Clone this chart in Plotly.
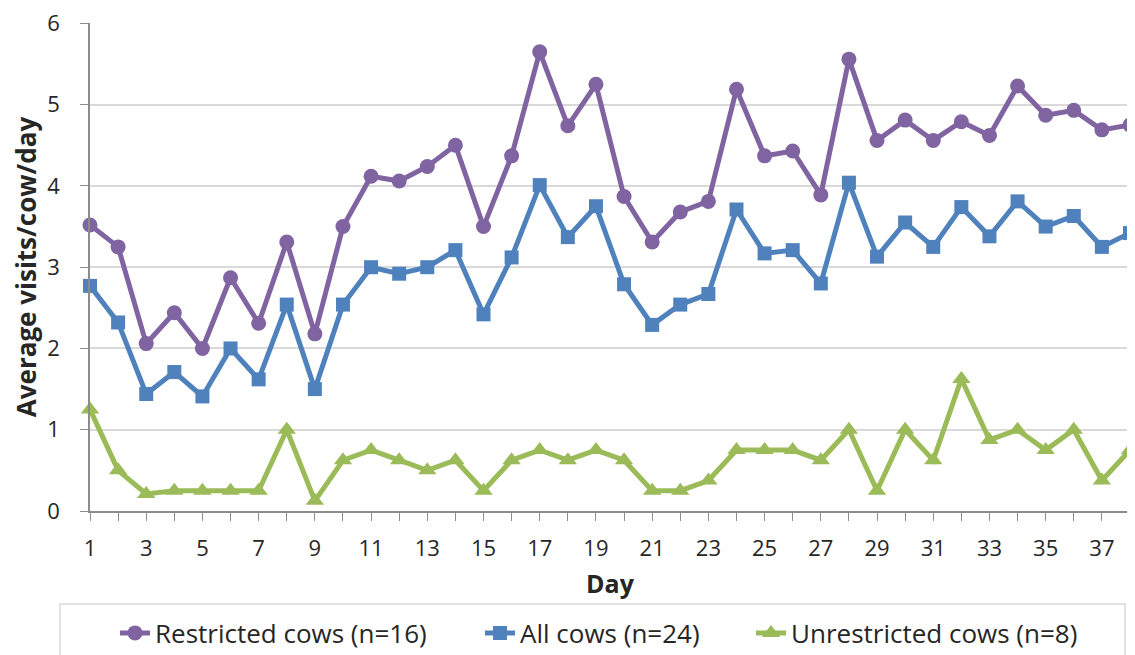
import plotly.graph_objects as go

days = list(range(1, 39))

restricted = [3.52, 3.25, 2.06, 2.44, 2.00, 2.87, 2.31, 3.31, 2.18, 3.50,
              4.12, 4.06, 4.24, 4.50, 3.50, 4.37, 5.65, 4.74, 5.25, 3.87,
              3.31, 3.68, 3.81, 5.19, 4.37, 4.43, 3.89, 5.56, 4.56, 4.81,
              4.56, 4.79, 4.62, 5.23, 4.87, 4.93, 4.69, 4.75]

all_cows = [2.77, 2.32, 1.44, 1.71, 1.41, 2.00, 1.62, 2.54, 1.50, 2.54,
            3.00, 2.92, 3.00, 3.21, 2.42, 3.12, 4.01, 3.37, 3.75, 2.79,
            2.29, 2.54, 2.67, 3.71, 3.17, 3.21, 2.80, 4.04, 3.13, 3.55,
            3.25, 3.74, 3.38, 3.81, 3.50, 3.63, 3.25, 3.42]

unrestricted = [1.25, 0.50, 0.21, 0.25, 0.25, 0.25, 0.25, 1.00, 0.125, 0.625,
                0.75, 0.625, 0.50, 0.625, 0.25, 0.625, 0.75, 0.625, 0.75, 0.625,
                0.25, 0.25, 0.375, 0.75, 0.75, 0.75, 0.625, 1.00, 0.25, 1.00,
                0.625, 1.625, 0.875, 1.00, 0.75, 1.00, 0.375, 0.75]

series_names = ["Restricted cows (n=16)", "All cows (n=24)", "Unrestricted cows (n=8)"]
x_tick_labels = [str(d) for d in range(1, 38, 2)]
y_ticks = [0, 1, 2, 3, 4, 5, 6]

FONT = "Open Sans"
TXT = "#262626"

fig = go.Figure()
styles = [
    (restricted, "#8064A2", "circle", 15, "legend"),
    (all_cows, "#4F81BD", "square", 14, "legend2"),
    (unrestricted, "#9BBB59", "triangle-up", 16, "legend3"),
]
for (vals, col, sym, sz, lg), name in zip(styles, series_names):
    fig.add_trace(go.Scatter(
        x=days, y=vals, name=name, mode="lines+markers",
        line=dict(color=col, width=5),
        marker=dict(color=col, symbol=sym, size=sz),
        legend=lg, showlegend=True, cliponaxis=False,
    ))

# plot area: 1040 x 488 px, left edge at page x=90, top at page y=23
PW, PH = 1040.0, 488.0
legend_common = dict(orientation="h", bgcolor="rgba(0,0,0,0)", borderwidth=0,
                     font=dict(family=FONT, size=26, color=TXT),
                     yanchor="middle", y=(511 - 633) / PH, xanchor="left",
                     visible=True)

fig.update_layout(
    width=1127, height=647,
    margin=dict(l=82, r=5, t=15, b=144, autoexpand=False),
    paper_bgcolor="white", plot_bgcolor="white",
    font=dict(family=FONT, color=TXT),
    showlegend=True,
    legend=dict(legend_common, x=(115 - 90) / PW),
    legend2=dict(legend_common, x=(480 - 90) / PW),
    legend3=dict(legend_common, x=(751 - 90) / PW),
    xaxis=dict(
        range=[1, 38], tickmode="array", tickvals=list(range(1, 38, 2)),
        ticktext=x_tick_labels, showgrid=False, zeroline=False,
        showline=True, linecolor="#8C8C8C", linewidth=1.5,
        ticks="", tickfont=dict(family=FONT, size=22, color=TXT), automargin=False,
        ticklabelstandoff=17,
        title=dict(text="<b>Day</b>", font=dict(family=FONT, size=25, color=TXT), standoff=14),
        minor=dict(ticks="outside", tickvals=days, ticklen=8, tickcolor="#8C8C8C", tickwidth=1.2),
    ),
    yaxis=dict(
        range=[0, 6.005], tickmode="array", tickvals=y_ticks, ticktext=[str(v) for v in y_ticks],
        showgrid=True, gridcolor="#D9D9D9", gridwidth=1.5,
        zeroline=False, showline=True, linecolor="#8C8C8C", linewidth=1.5,
        ticks="outside", ticklen=8, tickcolor="#8C8C8C", automargin=False,
        ticklabelstandoff=16, ticklabeloverflow="allow",
        tickfont=dict(family=FONT, size=22, color=TXT),
        title=dict(text="<b>Average visits/cow/day</b>", font=dict(family=FONT, size=26, color=TXT), standoff=10),
    ),
    shapes=[dict(type="rect", xref="paper", yref="paper",
                 x0=(60 - 90) / PW, x1=(1125 - 90) / PW,
                 y0=(511 - 604) / PH, y1=(511 - 668) / PH,
                 line=dict(color="#D9D9D9", width=1.5), fillcolor="rgba(0,0,0,0)")],
)

fig.write_html("out.html")
